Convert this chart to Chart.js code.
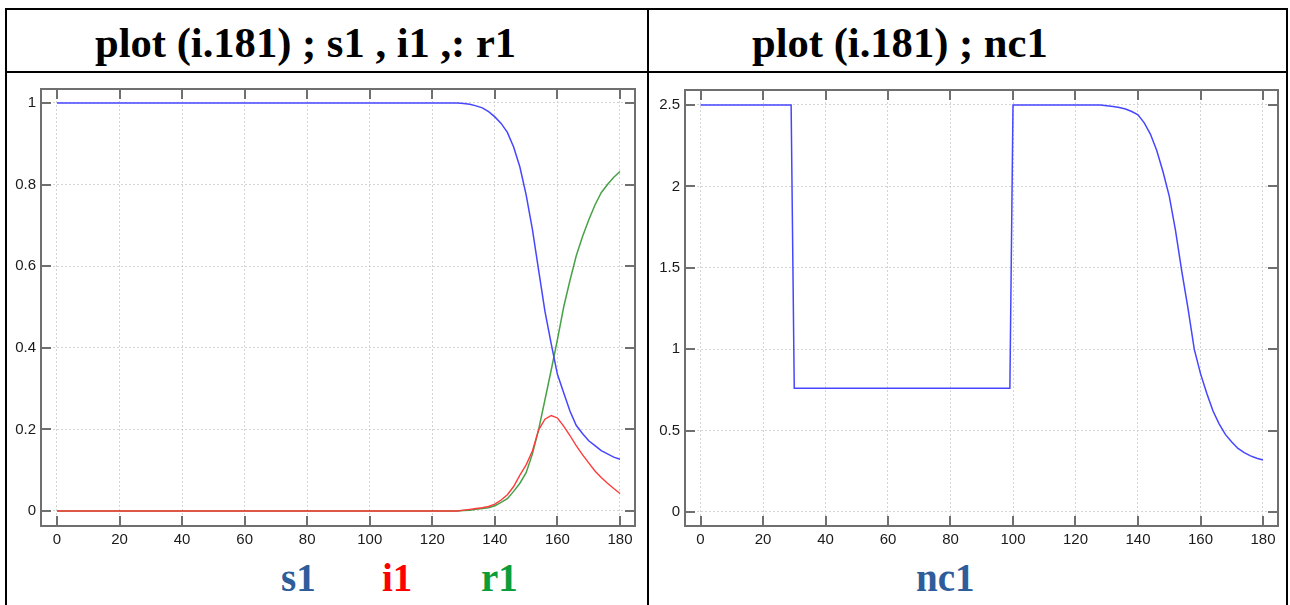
<!DOCTYPE html>
<html>
<head>
<meta charset="utf-8">
<script src="https://cdn.jsdelivr.net/npm/chart.js@4"></script>
<style>
    html, body { margin: 0; padding: 0; background: #fff; }
    body { width: 1290px; height: 605px; position: relative; overflow: hidden; }
    .line { position: absolute; background: #000; }
    .title {
        position: absolute; top: 18px;
        font: bold 42.6px "Liberation Serif", serif; color: #000; white-space: pre;
    }
    .legend {
        position: absolute; top: 555px;
        font: bold 39px "Liberation Serif", serif; white-space: pre;
    }
    canvas { position: absolute; }
</style>
</head>
<body>

<div class="line" style="left:5px; top:8px; width:1283px; height:2px;"></div>
<div class="line" style="left:5px; top:71px; width:1283px; height:2px;"></div>
<div class="line" style="left:5px; top:8px; width:2px; height:600px;"></div>
<div class="line" style="left:647px; top:8px; width:2px; height:600px;"></div>
<div class="line" style="left:1286px; top:8px; width:2px; height:600px;"></div>

<div class="title" style="left:95px;">plot (i.181) ; s1 , i1 ,: r1</div>
<div class="title" style="left:752px;">plot (i.181) ; nc1</div>

<div class="legend" style="left:281px; color:#2f5d9c;">s1</div>
<div class="legend" style="left:382px; color:#ff0000;">i1</div>
<div class="legend" style="left:481px; color:#0a9e3a;">r1</div>
<div class="legend" style="left:916px; color:#2f5d9c;">nc1</div>

<canvas id="chartSir" style="left:0px; top:75px;" width="648" height="485"></canvas>
<canvas id="chartNc" style="left:649px; top:75px;" width="641" height="485"></canvas>

<script>
// =========================
// DADOS
// =========================
const xTicks = [0, 20, 40, 60, 80, 100, 120, 140, 160, 180];
const ySirTicks = [0, 0.2, 0.4, 0.6, 0.8, 1];
const yNcTicks = [0, 0.5, 1, 1.5, 2, 2.5];

const tSir = [0, 128, 130, 132, 134, 136, 138, 140, 142, 144, 146, 148, 150, 152, 154,
    156, 158, 160, 162, 164, 166, 168, 170, 172, 174, 176, 178, 180];

const s1 = [1, 1, 0.999, 0.997, 0.993, 0.988, 0.979, 0.966, 0.95, 0.928, 0.892, 0.843, 0.775,
    0.69, 0.59, 0.49, 0.41, 0.335, 0.29, 0.245, 0.21, 0.19, 0.172, 0.16, 0.148, 0.14, 0.132, 0.127];

const i1 = [0, 0, 0.002, 0.004, 0.006, 0.008, 0.011, 0.017, 0.027, 0.04, 0.06, 0.088, 0.113,
    0.147, 0.199, 0.225, 0.234, 0.228, 0.208, 0.185, 0.16, 0.138, 0.118, 0.098, 0.082, 0.068, 0.055, 0.043];

const r1 = [0, 0, 0.001, 0.002, 0.004, 0.006, 0.008, 0.013, 0.021, 0.03, 0.048, 0.068, 0.094,
    0.14, 0.2, 0.272, 0.345, 0.42, 0.5, 0.565, 0.625, 0.672, 0.713, 0.75, 0.78, 0.8, 0.818, 0.832];

const tNc = [0, 29, 30, 99, 100, 128, 130, 132, 134, 136, 138, 140, 142, 144, 146, 148, 150,
    152, 154, 156, 158, 160, 162, 164, 166, 168, 170, 172, 174, 176, 178, 180];

const nc1 = [2.5, 2.5, 0.76, 0.76, 2.5, 2.5, 2.495, 2.49, 2.485, 2.475, 2.46, 2.44, 2.39, 2.32,
    2.22, 2.09, 1.94, 1.73, 1.48, 1.25, 1.0, 0.85, 0.73, 0.62, 0.54, 0.475, 0.43, 0.39, 0.365,
    0.345, 0.33, 0.32];

// ========================
// MOLDURA + TICKS INTERNOS
// ========================
const framePlugin = {
    id: 'frame',
    afterDraw(chart) {
        const { ctx, chartArea: a, scales } = chart;
        ctx.save();
        ctx.strokeStyle = '#6f6f6f';
        ctx.lineWidth = 2;
        ctx.strokeRect(a.left, a.top, a.right - a.left, a.bottom - a.top);
        const len = 10;
        ctx.beginPath();
        scales.x.ticks.forEach(t => {
            const px = Math.round(scales.x.getPixelForValue(t.value));
            ctx.moveTo(px, a.bottom); ctx.lineTo(px, a.bottom - len);
            ctx.moveTo(px, a.top); ctx.lineTo(px, a.top + len);
        });
        scales.y.ticks.forEach(t => {
            const py = Math.round(scales.y.getPixelForValue(t.value));
            ctx.moveTo(a.left, py); ctx.lineTo(a.left + len, py);
            ctx.moveTo(a.right, py); ctx.lineTo(a.right - len, py);
        });
        ctx.stroke();
        ctx.restore();
    }
};

function buildScales(xMin, xMax, yMin, yMax, yTicks, yWidth) {
    const tickFont = { family: '"Liberation Sans", Arial, sans-serif', size: 15 };
    const fmt = v => String(+Number(v).toFixed(2));
    return {
        x: {
            type: 'linear', min: xMin, max: xMax,
            afterBuildTicks: s => { s.ticks = xTicks.map(v => ({ value: v })); },
            afterFit: s => { s.height = 24; },
            grid: { color: '#d4d4d4', lineWidth: 1, drawTicks: false },
            border: { display: false, dash: [2, 2] },
            ticks: { color: '#1a1a1a', font: tickFont, padding: 5, maxRotation: 0, callback: fmt }
        },
        y: {
            type: 'linear', min: yMin, max: yMax,
            afterBuildTicks: s => { s.ticks = yTicks.map(v => ({ value: v })); },
            afterFit: s => { s.width = yWidth; },
            grid: { color: '#d4d4d4', lineWidth: 1, drawTicks: false },
            border: { display: false, dash: [2, 2] },
            ticks: { color: '#1a1a1a', font: tickFont, padding: 5, callback: fmt }
        }
    };
}

function toPoints(xs, ys) {
    return xs.map((x, i) => ({ x: x, y: ys[i] }));
}

function lineSet(xs, ys, color, width) {
    return {
        data: toPoints(xs, ys),
        borderColor: color,
        borderWidth: width,
        pointRadius: 0,
        tension: 0,
        fill: false
    };
}

// ========================
// GRÁFICO s1, i1, r1
// ========================
new Chart(document.getElementById('chartSir'), {
    type: 'line',
    data: {
        datasets: [
            lineSet(tSir, s1, '#4646ff', 1.5),
            lineSet(tSir, i1, '#ff3a3a', 1.4),
            lineSet(tSir, r1, 'rgba(0,125,0,0.72)', 1.5)
        ]
    },
    options: {
        responsive: false,
        animation: false,
        events: [],
        layout: { padding: { left: 0, right: 13, top: 14, bottom: 10 } },
        plugins: { legend: { display: false }, tooltip: { enabled: false } },
        scales: buildScales(-5.1, 184.8, -0.0368, 1.0343, ySirTicks, 41)
    },
    plugins: [framePlugin]
});

// ========================
// GRÁFICO nc1
// ========================
new Chart(document.getElementById('chartNc'), {
    type: 'line',
    data: {
        datasets: [
            lineSet(tNc, nc1, '#4646ff', 1.5)
        ]
    },
    options: {
        responsive: false,
        animation: false,
        events: [],
        layout: { padding: { left: 0, right: 12, top: 15, bottom: 10 } },
        plugins: { legend: { display: false }, tooltip: { enabled: false } },
        scales: buildScales(-4.96, 184.8, -0.086, 2.592, yNcTicks, 36)
    },
    plugins: [framePlugin]
});
</script>
</body>
</html>
